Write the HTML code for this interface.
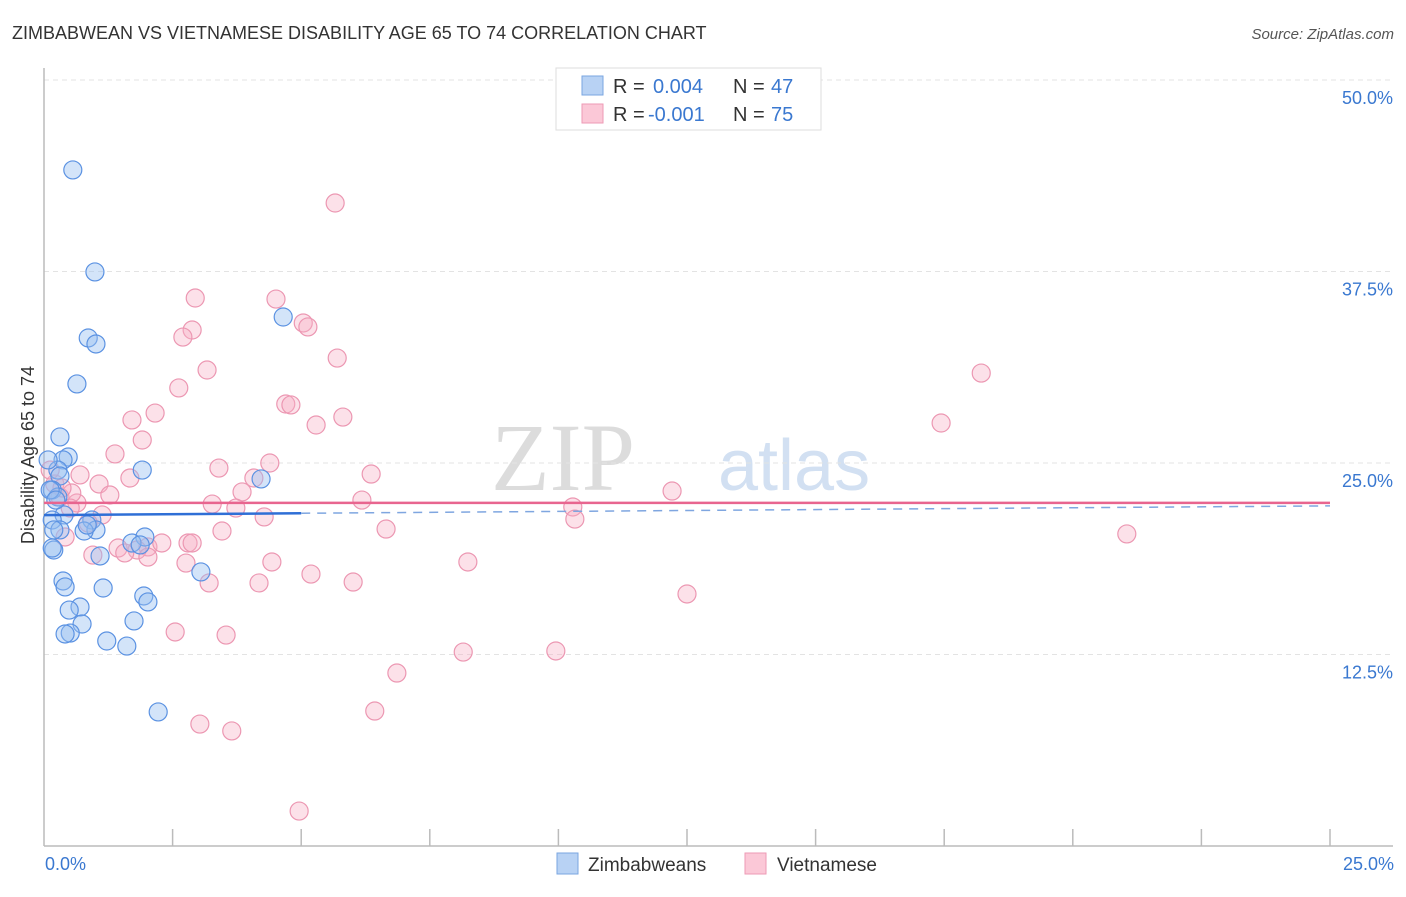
<!DOCTYPE html>
<html><head><meta charset="utf-8"><style>
body{margin:0;background:#fff;font-family:"Liberation Sans",sans-serif;}
svg text{font-family:"Liberation Sans",sans-serif;}
</style></head><body>
<svg id="chart" width="1406" height="892" viewBox="0 0 1406 892">
<text x="12" y="39" font-size="18" fill="#333">ZIMBABWEAN VS VIETNAMESE DISABILITY AGE 65 TO 74 CORRELATION CHART</text>
<text x="1394" y="39" font-size="15" fill="#555" font-style="italic" text-anchor="end">Source: ZipAtlas.com</text>
<g>
<text x="635" y="490" font-size="96" fill="#dcdcdc" text-anchor="end" font-family="Liberation Serif" style="font-family:'Liberation Serif',serif">ZIP</text>
<text x="718" y="490" font-size="72" fill="#d2e0f2">atlas</text>
</g>
<g id="grid"></g>
<g id="axes"></g>
<g id="marks"></g>
<text transform="translate(34,455) rotate(-90)" font-size="18" fill="#333" text-anchor="middle">Disability Age 65 to 74</text>
<text x="45" y="870" font-size="18" fill="#3a78d0">0.0%</text>
<text x="1394" y="870" font-size="18" fill="#3a78d0" text-anchor="end">25.0%</text>
<g>
<rect x="556" y="68" width="265" height="62" fill="#fff" stroke="#ddd"/>
<rect x="582" y="76" width="21" height="19" fill="#b8d2f4" stroke="#7aa6e0"/>
<rect x="582" y="104" width="21" height="19" fill="#fbc8d7" stroke="#ee9ab4"/>
<text x="613" y="93" font-size="20" fill="#333">R = </text><text x="653" y="93" font-size="20" fill="#3a78d0">0.004</text>
<text x="733" y="93" font-size="20" fill="#333">N = </text><text x="771" y="93" font-size="20" fill="#3a78d0">47</text>
<text x="613" y="121" font-size="20" fill="#333">R = </text><text x="648" y="121" font-size="20" fill="#3a78d0">-0.001</text>
<text x="733" y="121" font-size="20" fill="#333">N = </text><text x="771" y="121" font-size="20" fill="#3a78d0">75</text>
</g>
<g>
<rect x="557" y="853" width="21" height="21" fill="#b8d2f4" stroke="#7aa6e0"/>
<text x="588" y="871" font-size="19" fill="#333">Zimbabweans</text>
<rect x="745" y="853" width="21" height="21" fill="#fbc8d7" stroke="#ee9ab4"/>
<text x="777" y="871" font-size="19" fill="#333">Vietnamese</text>
</g>
</svg>
<script>
const yTicks=[12.5,25,37.5,50];
const yTickLabels=["12.5%","25.0%","37.5%","50.0%"];
const xTicks=[2.5,5,7.5,10,12.5,15,17.5,20,22.5,25];
const blueX=[0.56,0.99,0.86,1.01,0.64,0.31,0.47,0.37,1.91,4.22,4.65,0.27,0.31,0.16,0.27,0.39,0.16,0.93,1.01,0.31,0.19,1.09,0.78,1.96,1.71,0.19,0.16,3.05,0.37,0.41,1.15,1.94,2.02,0.70,0.49,0.74,1.75,0.51,0.41,1.22,1.61,2.22,0.08,0.12,0.23,0.84,1.87];
const blueY=[44.13,37.47,33.16,32.77,30.16,26.70,25.39,25.20,24.54,23.96,34.53,24.54,24.15,23.24,22.78,21.61,21.28,21.28,20.63,20.63,20.63,18.93,20.56,20.17,19.78,19.32,19.45,17.89,17.30,16.91,16.84,16.32,15.93,15.60,15.40,14.49,14.69,13.90,13.84,13.38,13.05,8.75,25.20,23.24,22.58,20.95,19.65];
const pinkX=[5.66,2.94,4.51,2.88,2.70,5.04,5.13,5.70,3.17,2.62,18.22,4.70,4.80,5.81,5.29,1.71,2.16,1.91,17.44,1.38,3.40,4.39,0.70,6.36,1.67,4.08,1.07,3.85,12.21,1.28,3.27,6.18,3.73,10.28,4.28,10.32,0.64,0.31,0.54,0.21,1.13,0.86,3.46,6.65,21.05,0.41,1.44,2.02,2.29,2.80,2.88,1.81,1.57,0.95,2.02,8.24,2.76,4.43,5.19,3.21,4.18,6.01,12.50,2.55,3.54,8.15,9.95,6.86,6.43,3.03,3.65,4.96,0.12,0.35,0.51];
const pinkY=[41.97,35.77,35.70,33.68,33.22,34.14,33.88,31.85,31.07,29.90,30.87,28.85,28.79,28.00,27.48,27.81,28.26,26.50,27.61,25.59,24.67,25.00,24.22,24.28,24.02,24.02,23.63,23.11,23.17,22.91,22.32,22.58,22.06,22.13,21.48,21.34,22.39,22.78,23.04,23.63,21.61,21.08,20.56,20.69,20.37,20.17,19.45,19.52,19.78,19.78,19.78,19.32,19.13,18.99,18.86,18.54,18.47,18.54,17.75,17.17,17.17,17.23,16.45,13.97,13.77,12.66,12.73,11.29,8.81,7.96,7.51,2.28,24.54,23.37,22.06];
const blueTrend=[21.6,22.2];
const pinkTrend=[22.4,22.4];
const blueSolidEnd=5;

const NS="http://www.w3.org/2000/svg";
const X0=44,X1=1330,Y0=846,YT=80;
const xs=v=>X0+(v/25)*(X1-X0);
const ys=v=>Y0-(v/50)*(Y0-YT);
function mk(tag,attrs,parent){const e=document.createElementNS(NS,tag);for(const k in attrs)e.setAttribute(k,attrs[k]);parent.appendChild(e);return e;}
const grid=document.getElementById('grid'),axes=document.getElementById('axes'),marks=document.getElementById('marks');
yTicks.forEach((t,i)=>{
 const l=mk('line',{x1:X0,x2:1393,y1:ys(t),y2:ys(t),stroke:'#e3e3e3','stroke-dasharray':'5,4'},grid);
 
 
 const tx=mk('text',{x:1393,y:ys(t)+24,'font-size':18,fill:'#3a78d0','text-anchor':'end'},grid);
 tx.textContent=yTickLabels[i];
 
 
});
const ya=mk('line',{x1:X0,x2:X0,y1:68,y2:Y0,stroke:'#bbb','stroke-width':1.5},axes);


const xa=mk('line',{x1:X0,x2:1393,y1:Y0,y2:Y0,stroke:'#bbb','stroke-width':1.5},axes);


xTicks.forEach(t=>{
 const l=mk('line',{x1:xs(t),x2:xs(t),y1:829,y2:Y0,stroke:'#bbb','stroke-width':1.5},axes);
 
 
});
function dots(X,Y,fill,stroke,name){X.forEach((x,i)=>{
 const c=mk('circle',{cx:xs(x),cy:ys(Y[i]),r:9,fill:fill,stroke:stroke,'stroke-width':1.2},marks);
 
 
});}
dots(pinkX,pinkY,'rgba(248,175,198,0.38)','#ec97b2','point-vietnamese');
dots(blueX,blueY,'rgba(150,190,240,0.42)','#5b92e2','point-zimbabwean');
const bs=blueTrend[0]+(blueTrend[1]-blueTrend[0])*blueSolidEnd/25;
const t1=mk('line',{x1:xs(0),y1:ys(blueTrend[0]),x2:xs(blueSolidEnd),y2:ys(bs),stroke:'#2f6fd6','stroke-width':2.5},marks);


const t2=mk('line',{x1:xs(blueSolidEnd),y1:ys(bs),x2:xs(25),y2:ys(blueTrend[1]),stroke:'#7fa6e0','stroke-width':1.5,'stroke-dasharray':'9,7'},marks);


const t3=mk('line',{x1:xs(0),y1:ys(pinkTrend[0]),x2:xs(25),y2:ys(pinkTrend[1]),stroke:'#e8658f','stroke-width':2.5},marks);


</script>
</body></html>
